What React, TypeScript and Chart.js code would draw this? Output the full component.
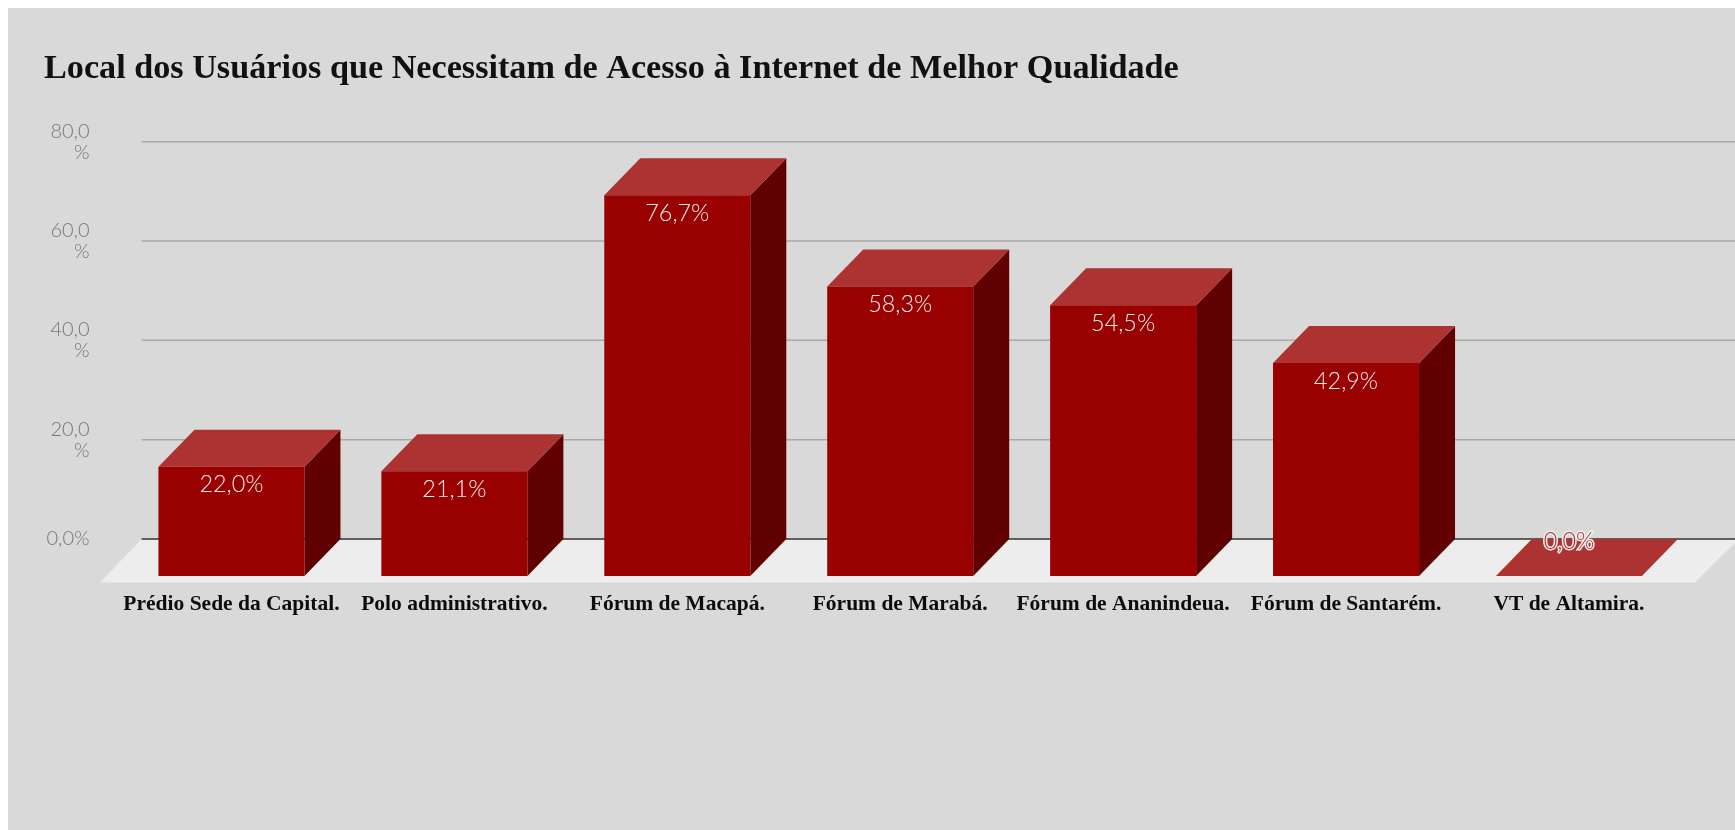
import React, { useEffect, useRef } from "react";
import { Chart, registerables } from "chart.js";

Chart.register(...registerables);

const TITLE = "Local dos Usuários que Necessitam de Acesso à Internet de Melhor Qualidade";
const categories = [
  "Prédio Sede da Capital.",
  "Polo administrativo.",
  "Fórum de Macapá.",
  "Fórum de Marabá.",
  "Fórum de Ananindeua.",
  "Fórum de Santarém.",
  "VT de Altamira.",
];
const values = [22.0, 21.1, 76.7, 58.3, 54.5, 42.9, 0.0];
const valueLabels = ["22,0%", "21,1%", "76,7%", "58,3%", "54,5%", "42,9%", "0,0%"];
const yMin = 0;
const yMax = 80;
const yStep = 20;

const DX = 36;
const DY = 37;
const FRONT = "#990000";
const TOP = "#ad3333";
const SIDE = "#600000";
const PANEL = "#d9d9d9";

const poly = (ctx: CanvasRenderingContext2D, pts: number[][], fill: string) => {
  ctx.beginPath();
  pts.forEach((p, i) => (i ? ctx.lineTo(p[0], p[1]) : ctx.moveTo(p[0], p[1])));
  ctx.closePath();
  ctx.fillStyle = fill;
  ctx.fill();
};

const depthPlugin = {
  id: "depth",
  beforeDatasetsDraw(chart: any) {
    const { ctx, chartArea, scales, width } = chart;
    const y = scales.y;
    const left = chartArea.left - 14.4;
    const zero = y.getPixelForValue(0);
    ctx.save();
    // back-wall grid lines
    y.ticks.forEach((t: any) => {
      if (t.value === 0) return;
      const py = y.getPixelForValue(t.value);
      ctx.beginPath();
      ctx.moveTo(left, py);
      ctx.lineTo(width, py);
      ctx.strokeStyle = "#aaaaaa";
      ctx.lineWidth = 1.5;
      ctx.stroke();
    });
    // floor
    poly(
      ctx,
      [
        [left, zero],
        [width, zero],
        [width, zero + 4],
        [chartArea.right - 21.4, zero + 43.5],
        [chartArea.left - 56, zero + 43.5],
      ],
      "#ededed"
    );
    ctx.beginPath();
    ctx.moveTo(left, zero);
    ctx.lineTo(width, zero);
    ctx.strokeStyle = "#333333";
    ctx.lineWidth = 1.5;
    ctx.stroke();
    // side and top faces of each bar
    chart.getDatasetMeta(0).data.forEach((bar: any) => {
      const l = bar.x - bar.width / 2 - DX;
      const r = bar.x + bar.width / 2 - DX;
      const t = bar.y + DY;
      const b = bar.base + DY;
      poly(ctx, [[r, t], [r + DX, t - DY], [r + DX, b - DY], [r, b]], SIDE);
      poly(ctx, [[l, t], [l + DX, t - DY], [r + DX, t - DY], [r, t]], TOP);
    });
    ctx.restore();
  },
  beforeDatasetDraw(chart: any) {
    chart.ctx.save();
    chart.ctx.translate(-DX, DY);
  },
  afterDatasetDraw(chart: any) {
    chart.ctx.restore();
  },
  afterDatasetsDraw(chart: any) {
    const { ctx } = chart;
    ctx.save();
    ctx.font = '300 23.4px Lato, "Noto Sans", sans-serif';
    ctx.textAlign = "center";
    ctx.textBaseline = "middle";
    chart.getDatasetMeta(0).data.forEach((bar: any, i: number) => {
      const x = bar.x - DX;
      if (values[i] === 0) {
        const y = bar.y + 2.5;
        ctx.lineWidth = 3;
        ctx.strokeStyle = "#eeeeee";
        ctx.strokeText(valueLabels[i], x, y);
        ctx.fillStyle = "#b02f2f";
        ctx.fillText(valueLabels[i], x, y);
      } else {
        ctx.fillStyle = "#eeeeee";
        ctx.fillText(valueLabels[i], x, bar.y + DY + 18);
      }
    });
    ctx.restore();
  },
};

export default function App() {
  const ref = useRef<HTMLCanvasElement>(null);
  useEffect(() => {
    document.body.style.marginRight = "0";
    const chart = new Chart(ref.current as HTMLCanvasElement, {
      type: "bar",
      data: {
        labels: categories,
        datasets: [
          {
            data: values,
            backgroundColor: FRONT,
            barPercentage: 0.655,
            categoryPercentage: 1,
            clip: false,
          } as any,
        ],
      },
      options: {
        responsive: false,
        animation: false,
        devicePixelRatio: 1,
        layout: { padding: { left: 36, right: 18.6, top: 0, bottom: 0 } },
        plugins: {
          legend: { display: false },
          tooltip: { enabled: false },
          title: {
            display: true,
            text: TITLE,
            align: "start",
            color: "#111111",
            font: { family: '"Liberation Serif", serif', size: 34.2, weight: "bold", lineHeight: 1.2 },
            padding: { top: 40.2, bottom: 52.5 },
          },
        },
        scales: {
          x: {
            grid: { display: false },
            border: { display: false },
            afterFit: (s: any) => {
              s.height = 291;
            },
            ticks: {
              color: "#0c0c0c",
              autoSkip: false,
              maxRotation: 0,
              minRotation: 0,
              labelOffset: -DX,
              padding: 45,
              font: { family: '"Liberation Serif", serif', size: 21.5, weight: "bold" },
            },
          },
          y: {
            min: yMin,
            max: yMax,
            grid: { display: false },
            border: { display: false },
            afterFit: (s: any) => {
              s.width = 112;
            },
            ticks: {
              stepSize: yStep,
              color: "#777777",
              padding: 58.4,
              font: { family: 'Lato, "Noto Sans", sans-serif', size: 20, weight: "300", lineHeight: 1.05 },
              callback: (v: any) => {
                const s = Number(v).toFixed(1).replace(".", ",");
                return Number(v) === 0 ? s + "%" : [s, "%"];
              },
            },
          },
        },
      },
      plugins: [depthPlugin],
    } as any);
    return () => chart.destroy();
  }, []);
  return (
    <canvas
      ref={ref}
      width={1727}
      height={822}
      style={{ display: "block", width: 1727, height: 822, background: PANEL }}
    />
  );
}
